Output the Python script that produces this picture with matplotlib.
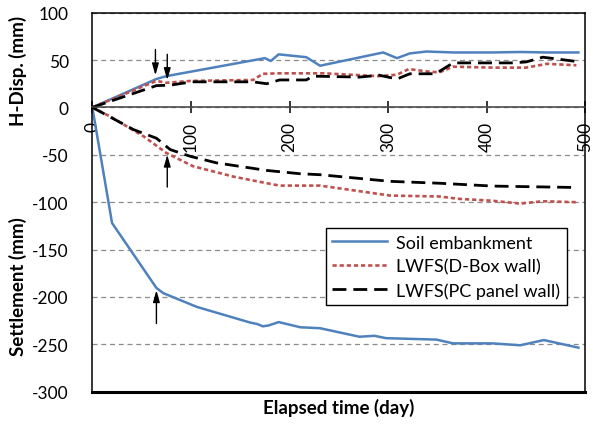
import numpy as np
import matplotlib.pyplot as plt

plt.rcParams['font.family'] = ['Lato', 'DejaVu Sans']
plt.rcParams['axes.unicode_minus'] = False

# H-displacement (mm)
dias_solo_h = [0, 65, 75, 175, 181, 189, 217, 231, 295, 309, 322, 339, 366, 406, 434, 461, 493]
solo_h = [0, 30, 33, 52, 49, 56, 53, 44, 58, 52, 57, 59, 58, 58, 58.5, 58, 58]

dias_dbox_h = [0, 65, 75, 100, 163, 173, 190, 235, 290, 309, 321, 339, 352, 366, 406, 440, 461, 491]
dbox_h = [0, 28, 26, 28, 29, 35.5, 36, 36, 33, 34.5, 40.5, 38, 37, 43, 42, 42, 46, 44.5]

dias_pc_h = [0, 65, 79, 101, 163, 177, 190, 217, 224, 271, 291, 309, 322, 348, 366, 427, 440, 457, 491]
pc_h = [0, 23, 23.5, 27, 27, 25, 29, 29, 33, 32, 34, 30, 35.5, 35.5, 47, 47, 48, 53, 48.5]

# Settlement (mm)
dias_solo_s = [0, 20, 65, 72, 106, 160, 167, 173, 179, 189, 211, 231, 271, 286, 298, 349, 366, 406, 434, 458, 493]
solo_s = [0, -122, -190.5, -196, -210.5, -227, -228.5, -231, -230, -226.5, -232, -233, -242, -241, -243.5,
          -245, -249, -249, -251, -245.5, -253.5]

dias_dbox_s = [0, 18, 52, 75, 102, 143, 177, 190, 231, 302, 352, 372, 406, 434, 457, 491]
dbox_s = [0, -9.5, -30.5, -48, -62, -73, -80, -82.5, -82.5, -93, -94, -96.5, -98.5, -101.5, -99, -100]

dias_pc_s = [0, 42, 65, 79, 99, 126, 177, 211, 231, 302, 352, 406, 491]
pc_s = [0, -23.5, -32.5, -44.5, -51.5, -58.5, -66.5, -70, -71, -78, -80, -83, -84.5]

legendas = ['Soil embankment', 'LWFS(D-Box wall)', 'LWFS(PC panel wall)']

# setas: (x, y_inicio, y_fim)
setas = [(64, 64, 31), (76, 59, 26), (76, -87, -47), (65, -231, -190)]

AZUL = '#4f81bd'
VERMELHO = '#c0504d'

fig = plt.figure(figsize=(5.93, 4.27), dpi=100)
ax = fig.add_axes([0.1557, 0.0803, 0.8313, 0.8877])

ax.plot(dias_solo_h, solo_h, color=AZUL, lw=1.8, label=legendas[0])
ax.plot(dias_dbox_h, dbox_h, color=VERMELHO, lw=1.9, dashes=(1.6, 1.1), label=legendas[1])
ax.plot(dias_pc_h, pc_h, color='black', lw=2.0, dashes=(5, 2.5), label=legendas[2])
ax.plot(dias_solo_s, solo_s, color=AZUL, lw=1.8)
ax.plot(dias_dbox_s, dbox_s, color=VERMELHO, lw=1.9, dashes=(1.6, 1.1))
ax.plot(dias_pc_s, pc_s, color='black', lw=2.0, dashes=(5, 2.5))

for x, y0, y1 in setas:
    ax.annotate('', xy=(x, y1), xytext=(x, y0),
                arrowprops=dict(arrowstyle='-|>,head_length=0.7,head_width=0.2', color='black', lw=1))

ax.set_xlim(0, 500)
ax.set_ylim(-300, 100)
ax.set_yticks(np.arange(-300, 101, 50))
ax.set_xticks(np.arange(0, 501, 100))
ax.yaxis.grid(True, ls=(0, (4, 3)), color='#8c8c8c', lw=0.9)
ax.set_axisbelow(True)

ax.spines['bottom'].set_position(('data', 0))
ax.spines['bottom'].set_color('#404040')
for s in ['top', 'right', 'left', 'bottom']:
    ax.spines[s].set_linewidth(1.1)
ax.axhline(-300, color='black', lw=2.2, clip_on=False)
ax.tick_params(axis='y', length=0, labelsize=12.5, pad=17)
ax.tick_params(axis='x', direction='inout', length=8, width=1.1, labelsize=12.5, labelrotation=90, pad=6)

fig.text(0.03, 0.835, 'H-Disp. (mm)', rotation=90, ha='center', va='center', fontsize=13.5, fontweight='bold')
fig.text(0.03, 0.328, 'Settlement (mm)', rotation=90, ha='center', va='center', fontsize=13.5, fontweight='bold')
fig.text(0.571, 0.044, 'Elapsed time (day)', ha='center', va='center', fontsize=13.5, fontweight='bold')

leg = ax.legend(loc='upper right', bbox_to_anchor=(0.962, 0.431), fontsize=13, handlelength=3.05,
                labelspacing=0.42, fancybox=False, framealpha=1, borderpad=0.35, handletextpad=0.5,
                borderaxespad=0)
leg.get_frame().set_edgecolor('black')
leg.get_frame().set_linewidth(1.0)

plt.savefig('out.png', dpi=100)
